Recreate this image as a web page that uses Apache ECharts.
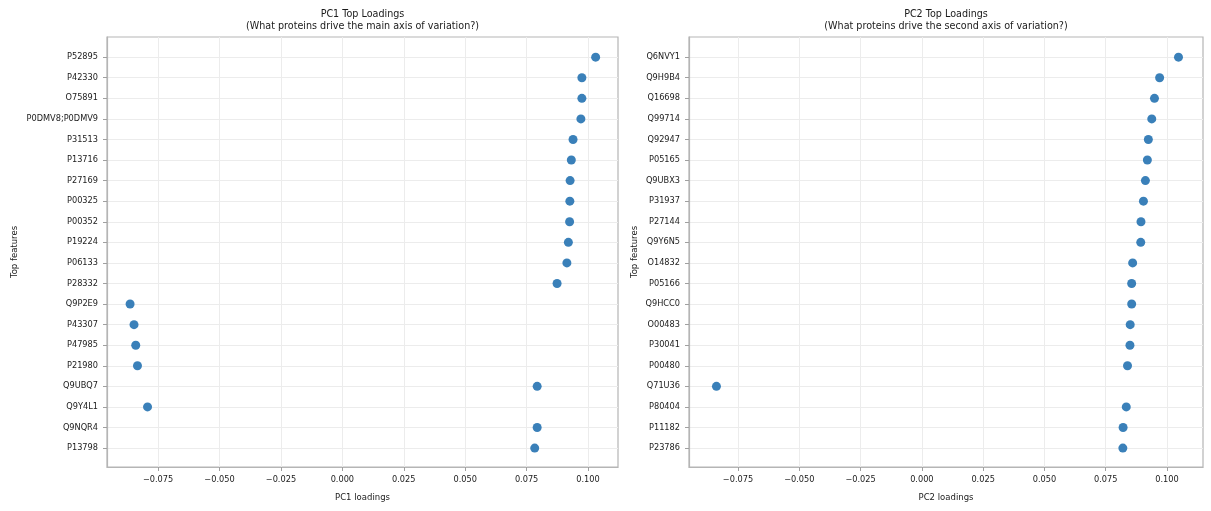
<!DOCTYPE html>
<html>
<head>
<meta charset="utf-8">
<script src="https://cdn.jsdelivr.net/npm/echarts@6/dist/echarts.min.js"></script>
<style>
  html, body { margin: 0; padding: 0; background: #fff; }
  #chart { width: 1211px; height: 511px; }
</style>
</head>
<body>
<div id="chart"></div>
<script>
"use strict";
// PC1 top loadings, top to bottom
var pc1Features = ['P52895', 'P42330', 'O75891', 'P0DMV8;P0DMV9', 'P31513', 'P13716', 'P27169',
  'P00325', 'P00352', 'P19224', 'P06133', 'P28332', 'Q9P2E9', 'P43307', 'P47985', 'P21980',
  'Q9UBQ7', 'Q9Y4L1', 'Q9NQR4', 'P13798'];
var pc1Loadings = [0.1031, 0.0975, 0.0975, 0.0971, 0.0939, 0.0932, 0.0927, 0.0926, 0.0925, 0.0920,
  0.0914, 0.0874, -0.0864, -0.0848, -0.0841, -0.0834, 0.0793, -0.0793, 0.0793, 0.0783];

// PC2 top loadings, top to bottom
var pc2Features = ['Q6NVY1', 'Q9H9B4', 'Q16698', 'Q99714', 'Q92947', 'P05165', 'Q9UBX3', 'P31937',
  'P27144', 'Q9Y6N5', 'O14832', 'P05166', 'Q9HCC0', 'O00483', 'P30041', 'P00480', 'Q71U36',
  'P80404', 'P11182', 'P23786'];
var pc2Loadings = [0.1047, 0.0970, 0.0949, 0.0938, 0.0924, 0.0920, 0.0912, 0.0904, 0.0894, 0.0893,
  0.0860, 0.0856, 0.0856, 0.0850, 0.0849, 0.0839, -0.0838, 0.0834, 0.0821, 0.0820];

var xTicks = [-0.075, -0.05, -0.025, 0, 0.025, 0.05, 0.075, 0.1];

var FONT = 'DejaVu Sans';
var TEXT = '#1a1a1a';
var SPINE = '#b5b5b5';
var TICK = '#a0a0a0';
var GRIDLINE = '#ececec';
var DOT = '#3a80b9';

var panels = [
  { left: 107, width: 511, min: -0.0958, max: 0.1122, feats: pc1Features, vals: pc1Loadings,
    xname: 'PC1 loadings', ygap: 88,
    title: 'PC1 Top Loadings\n(What proteins drive the main axis of variation?)' },
  { left: 689, width: 514, min: -0.0950, max: 0.1147, feats: pc2Features, vals: pc2Loadings,
    xname: 'PC2 loadings', ygap: 50,
    title: 'PC2 Top Loadings\n(What proteins drive the second axis of variation?)' }
];

var option = {
  animation: false,
  backgroundColor: '#fff',
  textStyle: { fontFamily: FONT },
  grid: [], xAxis: [], yAxis: [], series: [], graphic: []
};

panels.forEach(function (p, i) {
  var feats = p.feats;
  var idx = feats.map(function (f, k) { return k; });

  option.grid.push({
    left: p.left, top: 37, width: p.width, height: 430,
    show: true, borderColor: SPINE, borderWidth: 1.2, backgroundColor: '#fff'
  });

  option.xAxis.push({
    type: 'value', gridIndex: i, min: p.min, max: p.max,
    name: p.xname, nameLocation: 'middle', nameGap: 26,
    nameTextStyle: { fontSize: 8.5, color: TEXT, fontFamily: FONT },
    axisLine: { show: true, onZero: false, lineStyle: { color: SPINE, width: 1.2 } },
    axisTick: { show: true, inside: false, customValues: xTicks, length: 4,
      lineStyle: { color: TICK, width: 1 } },
    axisLabel: {
      customValues: xTicks, fontSize: 8.2, color: TEXT, fontFamily: FONT, margin: 9,
      formatter: function (v) { return (v < 0 ? '\u2212' : '') + Math.abs(v).toFixed(3); }
    },
    splitLine: { show: true, lineStyle: { color: GRIDLINE, width: 1 } }
  });

  option.yAxis.push({
    type: 'value', gridIndex: i, min: -0.98, max: feats.length - 0.08, inverse: true,
    name: 'Top features', nameLocation: 'middle', nameGap: p.ygap, nameRotate: 90,
    nameTextStyle: { fontSize: 8.5, color: TEXT, fontFamily: FONT },
    axisLine: { show: true, onZero: false, lineStyle: { color: SPINE, width: 1.2 } },
    axisTick: { show: true, inside: false, customValues: idx, length: 4,
      lineStyle: { color: TICK, width: 1 } },
    axisLabel: {
      customValues: idx, fontSize: 8.2, color: TEXT, fontFamily: FONT, margin: 9,
      formatter: function (v) { return feats[v] || ''; }
    },
    splitLine: { show: true, lineStyle: { color: GRIDLINE, width: 1 } }
  });

  option.series.push({
    type: 'scatter', xAxisIndex: i, yAxisIndex: i,
    symbolSize: 9,
    itemStyle: { color: DOT, opacity: 1 },
    data: p.vals.map(function (v, k) { return [v, k]; })
  });

  option.graphic.push({
    type: 'text', x: p.left + p.width / 2, y: 8,
    style: {
      text: p.title, textAlign: 'center', fill: TEXT,
      font: '9.6px "' + FONT + '"', lineHeight: 12
    }
  });
});

var chart = echarts.init(document.getElementById('chart'));
chart.setOption(option);
</script>
</body>
</html>
